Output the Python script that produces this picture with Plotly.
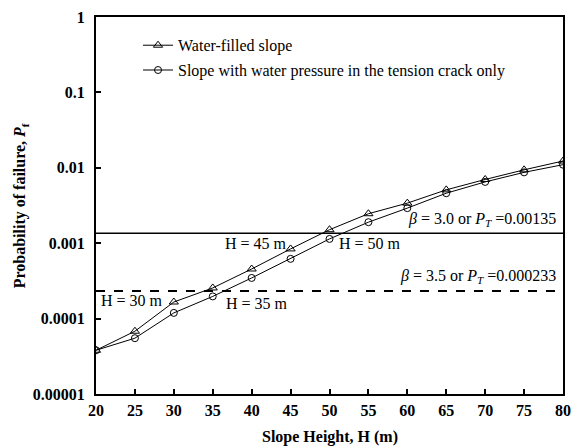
import math
import plotly.graph_objects as go

# Slope heights (m) and probabilities of failure for the two water conditions
heights = [20, 25, 30, 35, 40, 45, 50, 55, 60, 65, 70, 75, 80]
pf_water_filled = [3.8e-5, 6.8e-5, 1.66e-4, 2.55e-4, 4.55e-4, 8.4e-4, 1.51e-3,
                   2.46e-3, 3.4e-3, 5.1e-3, 7.0e-3, 9.4e-3, 0.0123]
pf_crack_only = [3.8e-5, 5.5e-5, 1.19e-4, 1.97e-4, 3.46e-4, 6.2e-4, 1.14e-3,
                 1.9e-3, 2.92e-3, 4.6e-3, 6.5e-3, 8.7e-3, 0.0110]

# Target probabilities of failure
pt_beta30 = 0.00135
pt_beta35 = 0.000233

y_tickvals = [1, 0.1, 0.01, 0.001, 0.0001, 0.00001]
y_ticktext = ["1", "0.1", "0.01", "0.001", "0.0001", "0.00001"]
x_tickvals = list(range(20, 81, 5))

FONT = "Liberation Serif, DejaVu Serif, serif"

fig = go.Figure()

fig.add_trace(go.Scatter(
    x=heights, y=pf_water_filled, mode="lines+markers",
    name="Water-filled slope", legendgroup="a",
    line=dict(color="black", width=1),
    marker=dict(symbol="triangle-up-open", size=8, color="black", line=dict(width=1)),
))
fig.add_trace(go.Scatter(
    x=heights, y=pf_crack_only, mode="lines+markers",
    name="Slope with water pressure in the tension crack only", legendgroup="b",
    line=dict(color="black", width=1),
    marker=dict(symbol="circle-open", size=7, color="black", line=dict(width=1)),
))

# Target reliability lines
fig.add_hline(y=pt_beta30, line=dict(color="black", width=1.5))
fig.add_hline(y=pt_beta35, line=dict(color="black", width=2, dash="dash"))

# Annotation positions on a log axis are given in log10 units
ly30 = math.log10(pt_beta30)
ly35 = math.log10(pt_beta35)

ann_font = dict(family=FONT, size=16, color="black")
fig.add_annotation(x=79.3, y=ly30, xref="x", yref="y", yshift=14,
                   text="<i>β</i> = 3.0 or <i>P</i><sub><i>T</i></sub> =0.00135",
                   showarrow=False, xanchor="right", font=ann_font)
fig.add_annotation(x=79.3, y=ly35, xref="x", yref="y", yshift=14,
                   text="<i>β</i> = 3.5 or <i>P</i><sub><i>T</i></sub> =0.000233",
                   showarrow=False, xanchor="right", font=ann_font)

# Height labels where the curves cross the target lines
fig.add_annotation(x=44.8, y=ly30, xref="x", yref="y", yshift=-10,
                   text="H = 45 m", showarrow=False, xanchor="right", font=ann_font)
fig.add_annotation(x=51.0, y=ly30, xref="x", yref="y", yshift=-10,
                   text="H = 50 m", showarrow=False, xanchor="left", font=ann_font)
fig.add_annotation(x=20.4, y=ly35, xref="x", yref="y", yshift=-10,
                   text="H = 30 m", showarrow=False, xanchor="left", font=ann_font)
fig.add_annotation(x=36.4, y=ly35, xref="x", yref="y", yshift=-13,
                   text="H = 35 m", showarrow=False, xanchor="left", font=ann_font)

# Axis titles
title_font = dict(family=FONT, size=16, color="black")
fig.add_annotation(x=0.5, y=-0.114, xref="paper", yref="paper",
                   text="<b>Slope Height, H (m)</b>", showarrow=False,
                   xanchor="center", yanchor="middle", font=title_font)
fig.add_annotation(x=-0.161, y=0.5, xref="paper", yref="paper", textangle=-90,
                   text="<b>Probability of failure, <i>P</i><sub>f</sub></b>",
                   showarrow=False, xanchor="center", yanchor="middle", font=title_font)

fig.update_layout(
    width=579, height=446,
    margin=dict(l=96, r=16, t=17, b=52, autoexpand=False),
    paper_bgcolor="white", plot_bgcolor="white",
    font=dict(family=FONT, color="black"),
    showlegend=True,
    legend=dict(x=0.09, y=0.97, xanchor="left", yanchor="top",
                font=dict(family=FONT, size=16, color="black"),
                bgcolor="rgba(0,0,0,0)", itemwidth=30, tracegroupgap=1),
)

fig.update_xaxes(
    range=[20, 80], tickvals=x_tickvals, automargin=False,
    ticks="inside", ticklen=5, tickwidth=1.5, tickcolor="black",
    showline=True, linecolor="black", linewidth=2, mirror=True,
    showgrid=False, zeroline=False, ticklabelstandoff=1,
    tickfont=dict(family=FONT, size=16, color="black", weight="bold"),
)
fig.update_yaxes(
    type="log", range=[-5, 0], tickvals=y_tickvals, ticktext=y_ticktext,
    automargin=False,
    ticks="inside", ticklen=5, tickwidth=1.5, tickcolor="black",
    showline=True, linecolor="black", linewidth=2, mirror=True,
    showgrid=False, zeroline=False, ticklabelstandoff=6,
    tickfont=dict(family=FONT, size=16, color="black", weight="bold"),
)

fig.write_html("out.html")
